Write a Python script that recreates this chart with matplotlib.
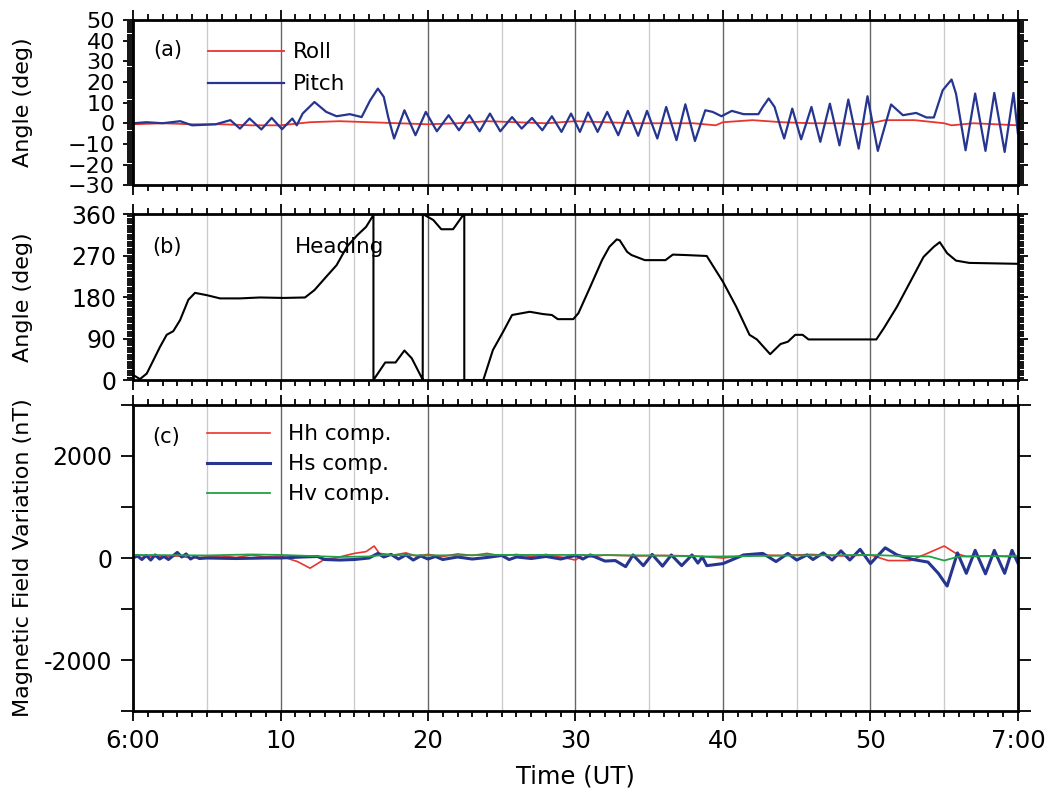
import numpy as np
import matplotlib
matplotlib.use("Agg")
import matplotlib.pyplot as plt
from matplotlib.ticker import MultipleLocator

plt.rcParams['font.family'] = ['DejaVu Sans']

# ---- data (minutes after 6:00 UT) ----
roll_t = [0, 2, 4, 6, 8, 10, 12, 14, 16, 18, 20, 22, 24, 26, 28, 30, 32, 34, 36, 38, 39.5,
          40, 42, 44, 46, 48, 49.5, 50, 51, 53, 55, 55.5, 57, 60]
roll_v = [-0.5, 0, -0.5, -0.5, -1, -1, 0.5, 1, 0.5, 0, -0.5, 0, 1, 0.5, 0, 1, 0.5, 0, 0, 0, -1,
          0.5, 1.5, 0.5, 0, 0, -0.5, 0, 1.5, 1.5, 0, -1, 0, -1]

pitch_t = [0, 0.9, 2.0, 3.2, 4.0, 5.6, 6.6, 7.25, 7.9, 8.7, 9.4, 10.1, 10.8, 11.1, 11.5, 12.3,
           13.1, 13.8, 14.7, 15.5, 16.07, 16.6, 17.0, 17.3, 17.7, 18.4, 19.15, 19.85, 20.6,
           21.4, 22.1, 22.8, 23.5, 24.2, 24.9, 25.7, 26.35, 27.05, 27.75, 28.4, 29.05, 29.7,
           30.3, 30.85, 31.5, 32.15, 32.9, 33.55, 34.25, 34.85, 35.55, 36.15, 36.85, 37.45,
           38.1, 38.8, 39.3, 39.9, 40.6, 41.4, 42.4, 42.7, 43.1, 43.5, 43.9, 44.15, 44.7,
           45.3, 46.0, 46.6, 47.25, 47.9, 48.5, 49.2, 49.8, 50.5, 51.4, 52.2, 53.1, 53.8,
           54.3, 54.9, 55.5, 55.8, 56.45, 57.1, 57.8, 58.4, 59.1, 59.7, 60]
pitch_v = [0, 0.5, 0, 1, -1, -0.5, 1.5, -2.6, 2.3, -3, 2.6, -2.9, 2.3, -1, 4.7, 10.3,
           5.5, 3.4, 4.4, 3, 11, 16.8, 12.8, 3, -7.4, 6.3, -5.8, 5.5, -3.9,
           3.9, -3.4, 3.9, -3.9, 4.7, -3.9, 3, -2.6, 2.6, -3.4, 3.4, -4.2, 4.7,
           -4.2, 5.2, -4.2, 5.5, -5.8, 6, -6.1, 6, -7.4, 7.9, -8.2, 9.2,
           -8.6, 6.3, 5.5, 3.4, 6, 4.4, 4.4, 7.9, 12, 7.9, -1.8, -7.4, 7.1,
           -7.8, 7.9, -9, 9.5, -10.7, 11.5, -12.3, 13.1, -13.4, 9.1, 3.9, 5, 2.8,
           2.8, 16, 21.2, 14.4, -13.1, 14.4, -13.4, 14.7, -13.9, 14.7, -5]

heading_t = [0, 0.47, 0.93, 1.83, 2.28, 2.73, 3.19, 3.75, 4.2, 5.0, 5.9, 7.25, 8.6, 10.2,
             11.66, 12.3, 13.1, 13.8, 14.5, 15.2, 15.8, 16.3, 16.3, 17.1, 17.8, 18.4, 18.9,
             19.62, 19.64, 19.65, 20.36, 20.9, 21.7, 22.3, 22.46, 22.46, 23.75, 24.4, 25.1,
             25.7, 26.9, 27.8, 28.4, 28.8, 29.85, 30.2, 31.0, 31.8, 32.3, 32.8, 33.0, 33.5,
             33.8, 34.7, 36.1, 36.6, 37.5, 38.9, 40.0, 40.9, 41.8, 42.3, 43.2, 43.9, 44.4,
             44.9, 45.4, 45.8, 50.4, 50.9, 51.8, 52.7, 53.6, 54.3, 54.7, 55.2, 55.8, 56.7, 60]
heading_v = [11, 2, 14, 72, 98, 106, 130, 174, 189, 184, 177, 177, 179, 178,
             179, 195, 224, 249, 289, 314, 332, 358, 0, 38, 38, 64, 47,
             2, 0, 360, 347, 327, 327, 354, 360, 0, 0, 65, 105,
             141, 148, 143, 141, 132, 132, 145, 202, 260, 289, 305, 303, 278,
             271, 260, 260, 272, 271, 269, 213, 159, 98, 88, 56, 78, 83,
             98, 98, 88, 88, 112, 159, 213, 267, 289, 299, 275, 259, 254, 252]

hh_t = [0, 1, 2, 3, 4, 5, 6, 7, 8, 9, 10, 10.4, 11.15, 12.0, 12.9, 13.85, 15.0, 15.8, 16.35,
        16.7, 17.7, 18.5, 19.2, 20, 21, 22, 23, 24, 25, 26, 27, 28, 29, 30, 30.5, 31, 32,
        34, 36, 38, 40, 42, 44, 46, 48, 50, 51.2, 52.7, 53.85, 55.0, 55.8, 56.5, 58, 60]
hh_v = [60, 40, 20, 40, 0, 20, 40, 10, 60, 20, 40, 0, -70, -200, -40, 10, 90, 125, 235,
        90, 60, 100, 40, 70, 30, 80, 50, 90, 40, 70, 30, 70, 20, -40, 60, 20, 60,
        40, 50, 40, 0, 60, 50, 70, 40, 60, -50, -50, 90, 235, 90, 30, 40, 20]

hs_t = [0, 0.3, 0.6, 0.9, 1.2, 1.5, 1.8, 2.1, 2.4, 2.7, 3.0, 3.3, 3.6, 3.9, 4.2, 4.5, 5, 7,
        9, 10, 11.5, 12.5, 13, 14, 15, 16, 16.6, 17, 17.5, 18, 18.5, 19, 19.5, 20, 20.5, 21,
        22, 23, 24, 25, 25.5, 26, 27, 28, 29, 30, 30.5, 31, 31.5, 32, 32.7, 33.4, 33.9,
        34.6, 35.2, 35.9, 36.5, 37.2, 37.9, 38.3, 38.6, 38.9, 40.0, 41.4, 42.7, 43.6, 44.4,
        45.0, 45.7, 46.1, 46.8, 47.4, 48.0, 48.6, 49.3, 50.0, 51.0, 51.8, 52.9, 53.9, 54.6,
        55.2, 55.9, 56.5, 57.1, 57.8, 58.4, 59.1, 59.6, 60]
hs_v = [0, 40, -30, 50, -40, 60, -20, 30, -30, 40, 110, 20, 80, -20, 30, -10, 0, -10,
        0, 0, 20, 30, -30, -40, -30, 0, 90, 20, 70, -20, 60, -40, 40, -20, 30, -30,
        20, -20, 10, 50, -30, 20, -10, 30, -20, 50, -20, 60, 0, -60, -50, -170, 60,
        -150, 70, -160, 60, -150, 60, -100, 20, -150, -110, 60, 90, -70, 90,
        -40, 60, -30, 100, -40, 140, -40, 170, -110, 200, 60, -30, -80, -300,
        -550, 100, -300, 150, -310, 150, -300, 150, -100]

hv_t = [0, 5, 8, 10, 12, 14, 16, 17, 20, 25, 30, 35, 38.8, 40, 45, 50, 52, 54, 55, 56, 60]
hv_v = [60, 50, 70, 60, 40, 20, 30, 60, 50, 60, 60, 50, 30, 30, 50, 60, 40, 30, -50, 30, 40]

xtick_pos = [0, 10, 20, 30, 40, 50, 60]
xtick_lab = ['6:00', '10', '20', '30', '40', '50', '7:00']

RED = '#e8352e'
BLUE = '#26358f'
GREEN = '#22a046'

fig = plt.figure(figsize=(10.61, 7.98), dpi=100)
left, width = 0.1254, 0.834
ax_a = fig.add_axes([left, 0.768, width, 0.2068])
ax_b = fig.add_axes([left, 0.5238, width, 0.208])
ax_c = fig.add_axes([left, 0.109, width, 0.3835])


def style(ax):
    ax.set_xlim(0, 60)
    ax.xaxis.set_major_locator(MultipleLocator(10))
    ax.xaxis.set_minor_locator(MultipleLocator(1))
    for s in ax.spines.values():
        s.set_linewidth(2)
    ax.tick_params(axis='both', which='both', direction='out', top=True, right=True,
                   width=1.3)
    ax.tick_params(axis='both', which='major', length=7)
    ax.tick_params(axis='both', which='minor', length=4)
    ax.tick_params(axis='x', labelbottom=False)
    for m in range(5, 60, 5):
        if m % 10 == 0:
            ax.axvline(m, color='#666666', lw=1.0, zorder=0)
        else:
            ax.axvline(m, color='#cccccc', lw=1.0, zorder=0)


for ax in (ax_a, ax_b, ax_c):
    style(ax)

# (a) roll / pitch
ax_a.plot(roll_t, roll_v, color=RED, lw=1.3, label='Roll')
ax_a.plot(pitch_t, pitch_v, color=BLUE, lw=1.6, solid_joinstyle='round', label='Pitch')
ax_a.set_ylim(-30, 50)
ax_a.yaxis.set_major_locator(MultipleLocator(10))
ax_a.yaxis.set_minor_locator(MultipleLocator(1))
ax_a.tick_params(axis='y', labelsize=16, pad=6)
ax_a.set_ylabel('Angle (deg)', fontsize=16)
ax_a.text(1.4, 35.5, '(a)', fontsize=15, va='center')
ax_a.legend(loc='upper left', bbox_to_anchor=(0.085, 0.866), frameon=False, fontsize=15.5,
            handlelength=3.5, handletextpad=0.42, labelspacing=0.57, borderpad=0,
            borderaxespad=0)

# (b) heading
ax_b.plot(heading_t, heading_v, color='black', lw=1.5)
ax_b.set_ylim(0, 360)
ax_b.yaxis.set_major_locator(MultipleLocator(90))
ax_b.yaxis.set_minor_locator(MultipleLocator(5))
ax_b.tick_params(axis='y', labelsize=17, pad=5)
ax_b.set_ylabel('Angle (deg)', fontsize=16)
ax_b.text(1.3, 288, '(b)', fontsize=15, va='center')
ax_b.text(11.0, 288, 'Heading', fontsize=15.5, va='center')

# (c) magnetic field
ax_c.plot(hh_t, hh_v, color=RED, lw=1.2, label='Hh comp.')
ax_c.plot(hs_t, hs_v, color=BLUE, lw=2.2, solid_joinstyle='round', label='Hs comp.')
ax_c.plot(hv_t, hv_v, color=GREEN, lw=1.3, label='Hv comp.')
ax_c.set_ylim(-3000, 3000)
ax_c.set_yticks([-3000, -2000, -1000, 0, 1000, 2000, 3000])
ax_c.set_yticklabels(['', '-2000', '', '0', '', '2000', ''])
ax_c.yaxis.set_minor_locator(plt.NullLocator())
ax_c.tick_params(axis='y', labelsize=17, length=9, pad=6)
ax_c.set_ylabel('Magnetic Field Variation (nT)', fontsize=16)
ax_c.text(1.3, 2370, '(c)', fontsize=15, va='center')
ax_c.legend(loc='upper left', bbox_to_anchor=(0.084, 0.937), frameon=False, fontsize=15.5,
            handlelength=2.9, handletextpad=0.84, labelspacing=0.46, borderpad=0,
            borderaxespad=0)
ax_c.set_xticks(xtick_pos)
ax_c.set_xticklabels(xtick_lab)
ax_c.tick_params(axis='x', labelbottom=True, labelsize=17.5, pad=6)
ax_c.set_xlabel('Time (UT)', fontsize=17.5, labelpad=8)

for ax in (ax_a, ax_b, ax_c):
    ax.yaxis.set_label_coords(-0.113, 0.5)

fig.savefig('out.png', dpi=100)
